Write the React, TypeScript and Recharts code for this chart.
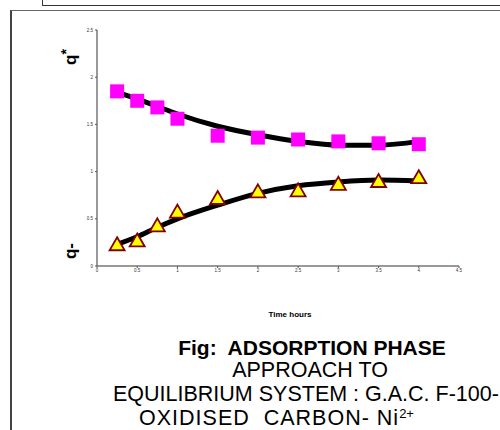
import React from "react";
import {
  ComposedChart,
  Line,
  Scatter,
  XAxis,
  YAxis,
} from "recharts";

// measured points (time in hours)
const timeHours = [0.25, 0.5, 0.75, 1, 1.5, 2, 2.5, 3, 3.5, 4];
const qStar = [1.85, 1.75, 1.68, 1.56, 1.38, 1.36, 1.34, 1.32, 1.3, 1.29];
const qMinus = [0.22, 0.26, 0.42, 0.565, 0.71, 0.78, 0.79, 0.86, 0.89, 0.93];

// trend lines
const trendTime = [0.25, 0.5, 0.75, 1, 1.5, 2, 2.5, 3, 3.5, 4];
const qStarTrend = [1.84, 1.77, 1.69, 1.61, 1.48, 1.39, 1.32, 1.28, 1.28, 1.32];
const qMinusTrend = [0.23, 0.31, 0.41, 0.5, 0.645, 0.77, 0.85, 0.89, 0.91, 0.9];

const xTicks = [0, 0.5, 1, 1.5, 2, 2.5, 3, 3.5, 4, 4.5];
const yTicks = [0, 0.5, 1, 1.5, 2, 2.5];

const starPoints = timeHours.map((t, i) => ({ t, v: qStar[i] }));
const minusPoints = timeHours.map((t, i) => ({ t, v: qMinus[i] }));
const starTrend = trendTime.map((t, i) => ({ t, v: qStarTrend[i] }));
const minusTrend = trendTime.map((t, i) => ({ t, v: qMinusTrend[i] }));

const FONT = "Arial, 'Liberation Sans', sans-serif";

function Square(props: any) {
  const { cx, cy } = props;
  return <rect x={cx - 7} y={cy - 7} width={14} height={14} fill="#FF00FF" />;
}

function Triangle(props: any) {
  const { cx, cy } = props;
  return (
    <polygon
      points={`${cx},${cy - 8} ${cx + 7.5},${cy + 5} ${cx - 7.5},${cy + 5}`}
      fill="#FFFF00"
      stroke="#800000"
      strokeWidth={1.8}
      strokeLinejoin="miter"
    />
  );
}

const tickStyle = { fontSize: 4.5, fill: "#333", fontFamily: FONT };

export default function App() {
  return (
    <div
      style={{
        position: "absolute",
        left: 0,
        top: 0,
        width: 500,
        height: 430,
        overflow: "hidden",
        background: "#fff",
        fontFamily: FONT,
      }}
    >
      {/* frames from the page */}
      <div
        style={{
          position: "absolute",
          left: 42,
          top: -4,
          width: 480,
          height: 8,
          border: "1.5px solid #333",
        }}
      />
      <div
        style={{
          position: "absolute",
          left: 10,
          top: 10,
          width: 500,
          height: 440,
          borderLeft: "2px solid #444",
          borderTop: "1.5px solid #666",
        }}
      />

      <div style={{ position: "absolute", left: 0, top: 0 }}>
        <ComposedChart
          width={500}
          height={290}
          margin={{ top: 30, right: 41, left: 77, bottom: 10 }}
        >
          <XAxis
            type="number"
            dataKey="t"
            domain={[0, 4.5]}
            ticks={xTicks}
            interval={0}
            height={14}
            tick={tickStyle}
            tickSize={2}
            tickMargin={1}
            axisLine={{ stroke: "#777", strokeWidth: 1.5 }}
            tickLine={{ stroke: "#555" }}
          />
          <YAxis
            type="number"
            dataKey="v"
            domain={[0, 2.5]}
            ticks={yTicks}
            interval={0}
            width={20}
            tick={tickStyle}
            tickSize={2}
            tickMargin={2}
            axisLine={{ stroke: "#777", strokeWidth: 1.5 }}
            tickLine={{ stroke: "#555" }}
          />
          <Scatter
            data={starPoints}
            dataKey="v"
            shape={<Square />}
            isAnimationActive={false}
          />
          <Scatter
            data={minusPoints}
            dataKey="v"
            shape={<Triangle />}
            isAnimationActive={false}
          />
          <Line
            data={starTrend}
            dataKey="v"
            type="monotone"
            stroke="#000"
            strokeWidth={5}
            strokeLinecap="round"
            dot={false}
            activeDot={false}
            isAnimationActive={false}
          />
          <Line
            data={minusTrend}
            dataKey="v"
            type="monotone"
            stroke="#000"
            strokeWidth={5}
            strokeLinecap="round"
            dot={false}
            activeDot={false}
            isAnimationActive={false}
          />
        </ComposedChart>
      </div>

      {/* rotated axis labels */}
      <div
        style={{
          position: "absolute",
          left: 69,
          top: 57,
          transform: "translate(-50%, -50%) rotate(-90deg)",
          fontSize: 17,
          fontWeight: "bold",
          whiteSpace: "nowrap",
          lineHeight: 1,
        }}
      >
        q<sup style={{ fontSize: 14, verticalAlign: "5px" }}>*</sup>
      </div>
      <div
        style={{
          position: "absolute",
          left: 70,
          top: 251,
          transform: "translate(-50%, -50%) rotate(-90deg)",
          fontSize: 17,
          fontWeight: "bold",
          whiteSpace: "nowrap",
          lineHeight: 1,
        }}
      >
        q-
      </div>

      <div
        style={{
          position: "absolute",
          left: 290,
          top: 314,
          transform: "translate(-50%, -50%)",
          fontSize: 8,
          fontWeight: "bold",
          whiteSpace: "nowrap",
        }}
      >
        Time hours
      </div>

      <div
        style={{
          position: "absolute",
          left: 312,
          top: 347,
          transform: "translate(-50%, -50%)",
          fontSize: 21,
          fontWeight: "bold",
          whiteSpace: "pre",
          lineHeight: 1,
        }}
      >
        {"Fig:  ADSORPTION PHASE"}
      </div>
      <div
        style={{
          position: "absolute",
          left: 310,
          top: 371,
          transform: "translate(-50%, -50%)",
          fontSize: 21.5,
          whiteSpace: "pre",
          lineHeight: 1,
        }}
      >
        APPROACH TO
      </div>
      <div
        style={{
          position: "absolute",
          left: 113,
          top: 395,
          transform: "translateY(-50%)",
          fontSize: 21.5,
          whiteSpace: "pre",
          lineHeight: 1,
        }}
      >
        EQUILIBRIUM SYSTEM : G.A.C. F-100-
      </div>
      <div
        style={{
          position: "absolute",
          left: 139,
          top: 419,
          transform: "translateY(-50%)",
          fontSize: 21.5,
          letterSpacing: 1,
          whiteSpace: "pre",
          lineHeight: 1,
        }}
      >
        {"OXIDISED  CARBON- Ni"}
        <sup style={{ fontSize: 13, verticalAlign: "7px", lineHeight: 0, letterSpacing: 0 }}>2+</sup>
      </div>
    </div>
  );
}
